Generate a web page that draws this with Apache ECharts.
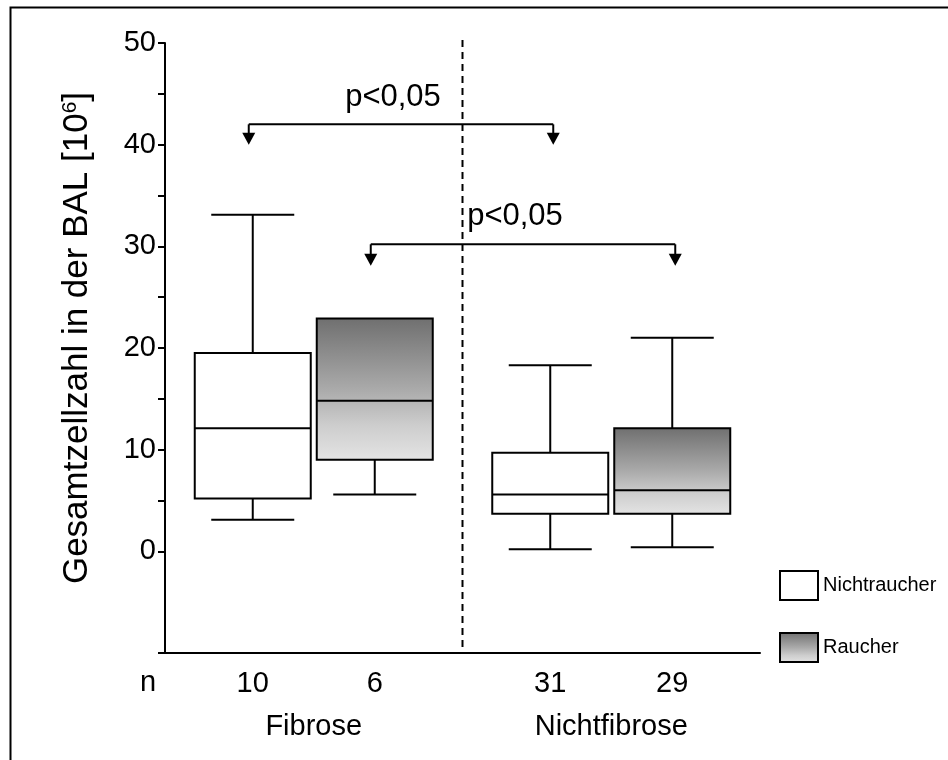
<!DOCTYPE html>
<html>
<head>
<meta charset="utf-8">
<script src="https://cdn.jsdelivr.net/npm/echarts@6/dist/echarts.min.js"></script>
<style>
  html, body { margin: 0; padding: 0; background: #fff; }
  #chart { width: 948px; height: 760px; }
</style>
</head>
<body>
<div id="chart"></div>
<script>
// Groups on the category axis
const categories = ['Fibrose', 'Nichtfibrose'];

// Box statistics per group: [min, Q1, median, Q3, max]
const nichtraucherStats = [
  [3.1, 5.2, 12.1, 19.5, 33.1],
  [0.2, 3.7, 5.6, 9.7, 18.3]
];
const raucherStats = [
  [5.6, 9.0, 14.8, 22.9, 22.9],
  [0.4, 3.7, 6.0, 12.1, 21.0]
];

// Sample sizes per group
const nichtraucherN = [10, 31];
const raucherN = [6, 29];

// Y axis ticks and labels
const yTickValues = [-10, 0, 5, 10, 15, 20, 25, 30, 35, 40, 45, 50];
const yLabelValues = [0, 10, 20, 30, 40, 50];

// Significance brackets (Fibrose vs. Nichtfibrose within each smoking group)
const bracketGroups = ['Nichtraucher', 'Raucher'];
const bracketLevels = [42.0, 30.2];
const bracketTips = [40.0, 28.1];
const pLabelLevels = [44.6, 32.9];
const pLabels = ['p<0,05', 'p<0,05'];

const FONT = '"Liberation Sans", Arial, Helvetica, sans-serif';
const BOX_OFFSET = 61;   // px from the group centre to each box centre
const BOX_HALF = 58;     // half box width, px
const CAP_HALF = 41.5;   // half whisker cap width, px

const smokerFill = () => new echarts.graphic.LinearGradient(0, 0, 0, 1, [
  { offset: 0, color: '#6f6f6f' },
  { offset: 0.5, color: '#aaaaaa' },
  { offset: 0.75, color: '#cdcdcd' },
  { offset: 1, color: '#e4e4e4' }
]);

function toRows(stats, counts) {
  return stats.map((s, i) => [i, s[0], s[1], s[2], s[3], s[4], counts[i]]);
}

function seg(x1, y1, x2, y2, w) {
  return { type: 'line', shape: { x1, y1, x2, y2 }, style: { stroke: '#000', lineWidth: w || 2 } };
}

function boxRenderer(side, fillFn) {
  return function (params, api) {
    const cat = api.value(0);
    const yOf = v => api.coord([cat, v])[1];
    const cx = api.coord([cat, 0])[0] + side * BOX_OFFSET;
    const yMin = yOf(api.value(1));
    const yQ1 = yOf(api.value(2));
    const yMed = yOf(api.value(3));
    const yQ3 = yOf(api.value(4));
    const yMax = yOf(api.value(5));
    const yBase = yOf(-10);
    const children = [];
    if (yMax < yQ3 - 0.5) {
      children.push(seg(cx, yQ3, cx, yMax), seg(cx - CAP_HALF, yMax, cx + CAP_HALF, yMax));
    }
    children.push(seg(cx, yQ1, cx, yMin), seg(cx - CAP_HALF, yMin, cx + CAP_HALF, yMin));
    children.push({
      type: 'rect',
      shape: { x: cx - BOX_HALF, y: yQ3, width: 2 * BOX_HALF, height: yQ1 - yQ3 },
      style: { fill: fillFn(), stroke: '#000', lineWidth: 2 }
    });
    children.push(seg(cx - BOX_HALF, yMed, cx + BOX_HALF, yMed));
    children.push({
      type: 'text', x: cx, y: yBase + 31,
      style: { text: String(api.value(6)), fontSize: 29, fontFamily: FONT, fill: '#000', align: 'center', verticalAlign: 'middle' }
    });
    return { type: 'group', children };
  };
}

function bracketRenderer(params, api) {
  const i = params.dataIndex;
  const side = bracketGroups[i] === 'Raucher' ? 1 : -1;
  const xl = api.coord([api.value(0), 0])[0] + side * BOX_OFFSET - 4;
  const xr = api.coord([api.value(1), 0])[0] + side * BOX_OFFSET + 3;
  const yLine = api.coord([0, api.value(2)])[1];
  const yTip = api.coord([0, api.value(3)])[1];
  const yText = api.coord([0, api.value(4)])[1];
  const children = [seg(xl, yLine, xr, yLine)];
  [xl, xr].forEach(x => {
    children.push(seg(x, yLine, x, yTip - 11));
    children.push({
      type: 'polygon',
      shape: { points: [[x - 6.5, yTip - 12], [x + 6.5, yTip - 12], [x, yTip]] },
      style: { fill: '#000' }
    });
  });
  children.push({
    type: 'text', x: (xl + xr) / 2 - 8, y: yText,
    style: { text: pLabels[i], fontSize: 31, fontFamily: FONT, fill: '#000', align: 'center', verticalAlign: 'middle' }
  });
  return { type: 'group', children };
}

function separatorRenderer(params, api) {
  const x = (api.coord([api.value(0), 0])[0] + api.coord([api.value(1), 0])[0]) / 2;
  return {
    type: 'line',
    shape: { x1: x, y1: api.coord([0, 50.3])[1], x2: x, y2: api.coord([0, -10])[1] },
    style: { stroke: '#000', lineWidth: 2, lineDash: [7, 5] }
  };
}

const chart = echarts.init(document.getElementById('chart'), null, { renderer: 'canvas' });

chart.setOption({
  backgroundColor: '#fff',
  animation: false,
  grid: { left: 165, right: 188, top: 43, bottom: 107, containLabel: false },
  xAxis: {
    type: 'category',
    data: categories,
    boundaryGap: true,
    axisLine: { onZero: false, lineStyle: { color: '#000', width: 2 } },
    axisTick: { alignWithLabel: true, length: 6, lineStyle: { color: '#000', width: 1 } },
    axisLabel: { fontSize: 29, fontFamily: FONT, color: '#000', margin: 59 },
    splitLine: { show: false }
  },
  yAxis: {
    type: 'value',
    min: -10,
    max: 50,
    interval: 10,
    name: '{a|Gesamtzellzahl in der BAL [10}{s|6}{a|]}',
    nameLocation: 'middle',
    nameRotate: 90,
    nameGap: 70,
    nameTextStyle: {
      padding: [0, 0, 0, 20],
      rich: {
        a: { fontSize: 35, fontFamily: FONT, color: '#000' },
        s: { fontSize: 21, fontFamily: FONT, color: '#000', verticalAlign: 'top' }
      }
    },
    axisLine: { show: true, lineStyle: { color: '#000', width: 2 } },
    axisTick: { show: true, customValues: yTickValues, length: 7, lineStyle: { color: '#000', width: 2 } },
    axisLabel: { customValues: yLabelValues, fontSize: 29, fontFamily: FONT, color: '#000', margin: 9 },
    splitLine: { show: false }
  },
  legend: {
    orient: 'vertical',
    left: 774,
    top: 565,
    itemWidth: 38,
    itemHeight: 29,
    itemGap: 31,
    selectedMode: false,
    textStyle: { fontSize: 20, fontFamily: FONT, color: '#000' },
    data: [
      { name: 'Nichtraucher', icon: 'rect', itemStyle: { color: '#fff', borderColor: '#000', borderWidth: 2 } },
      { name: 'Raucher', icon: 'rect', itemStyle: { color: smokerFill(), borderColor: '#000', borderWidth: 2 } }
    ]
  },
  graphic: [
    { type: 'rect', left: 8, top: 5, shape: { width: 1000, height: 1000 }, style: { fill: 'none', stroke: '#000', lineWidth: 2 }, silent: true },
    { type: 'text', left: 140, top: 668, style: { text: 'n', fontSize: 29, fontFamily: FONT, fill: '#000' }, silent: true }
  ],
  series: [
    {
      name: 'separator',
      type: 'custom',
      renderItem: separatorRenderer,
      encode: { x: [0, 1] },
      data: [[0, 1]],
      silent: true,
      z: 1
    },
    {
      name: 'Nichtraucher',
      type: 'custom',
      renderItem: boxRenderer(-1, () => '#fff'),
      encode: { x: 0, y: [1, 2, 3, 4, 5] },
      itemStyle: { color: '#fff', borderColor: '#000', borderWidth: 2 },
      data: toRows(nichtraucherStats, nichtraucherN),
      z: 3
    },
    {
      name: 'Raucher',
      type: 'custom',
      renderItem: boxRenderer(1, smokerFill),
      encode: { x: 0, y: [1, 2, 3, 4, 5] },
      itemStyle: { color: '#aaa', borderColor: '#000', borderWidth: 2 },
      data: toRows(raucherStats, raucherN),
      z: 3
    },
    {
      name: 'brackets',
      type: 'custom',
      renderItem: bracketRenderer,
      encode: { x: [0, 1], y: [2, 3, 4] },
      data: bracketLevels.map((lvl, i) => [0, 1, lvl, bracketTips[i], pLabelLevels[i]]),
      silent: true,
      z: 4
    }
  ]
});
</script>
</body>
</html>
